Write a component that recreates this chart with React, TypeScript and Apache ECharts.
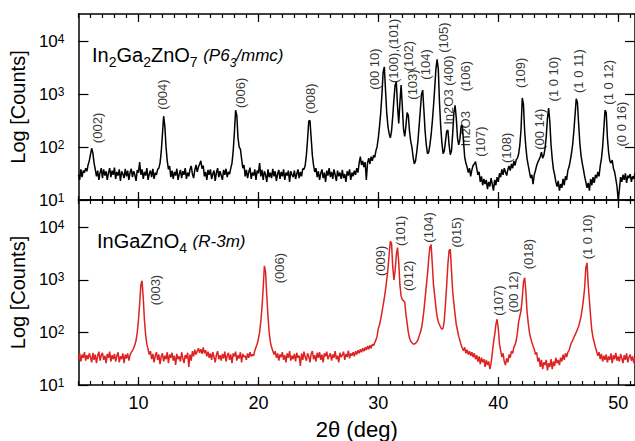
import React, { useEffect, useRef } from 'react';
import * as echarts from 'echarts';

const FONT = '"Liberation Sans", Arial, Helvetica, sans-serif';

// 2θ grid of the scans (deg)
const THETA_START = 5.0;
const THETA_STEP = 0.1;

// In2Ga2ZnO7 (P63/mmc) counts, 5.0° … 51.4° in 0.1° steps
const igzo227Counts = [
  30,24,38,27,36,33,40,35,46,55,
  72,95,78,50,38,28,36,24,33,40,
  26,38,29,35,24,33,40,27,36,30,
  41,25,34,29,38,23,35,31,26,39,
  28,36,24,33,39,27,35,30,23,37,
  33,52,30,38,25,34,29,40,24,31,
  36,27,39,25,33,30,38,40,50,82,
  175,385,250,100,55,38,44,27,36,25,
  34,29,39,24,31,37,26,35,30,40,
  25,33,28,38,44,31,26,37,46,34,
  42,48,55,39,45,28,34,24,37,30,
  38,25,31,36,23,33,40,27,35,29,
  24,37,30,39,27,34,31,40,50,85,
  190,500,400,150,100,92,60,40,46,28,
  37,26,34,41,25,33,29,38,24,36,
  32,50,28,37,24,35,30,22,38,27,
  33,26,39,28,35,23,31,37,25,34,
  28,38,24,33,29,36,22,35,30,27,
  36,25,31,38,26,34,28,39,38,45,
  70,140,310,320,150,70,45,34,40,27,
  35,24,32,38,26,33,22,36,29,40,
  27,34,25,38,30,23,36,28,33,25,
  37,26,31,22,35,29,38,24,33,28,
  36,30,40,33,50,66,46,55,42,52,
  24,50,62,48,66,55,70,64,85,103,
  150,250,450,1000,2600,3300,1200,450,250,180,
  150,200,380,800,1500,1700,600,280,700,1500,
  600,220,160,250,450,400,200,130,100,65,
  48,55,80,130,250,500,1000,1200,500,200,
  110,75,80,110,170,300,600,1300,3000,4600,
  3000,700,250,120,75,85,130,200,210,110,
  72,85,180,450,620,350,150,110,140,250,
  260,130,65,50,42,33,40,28,37,45,
  48,53,40,30,34,22,28,19,25,20,
  24,16,22,18,26,20,15,24,19,27,
  22,32,27,38,30,40,34,29,38,44,
  36,48,40,55,45,58,62,75,110,220,
  850,650,200,100,60,45,34,26,30,20,
  30,36,45,52,58,66,80,62,70,95,
  160,350,550,300,110,60,38,30,22,18,
  23,15,20,17,25,19,28,24,36,42,
  55,75,110,200,400,820,700,280,120,70,
  50,38,28,22,17,21,15,25,19,27,
  21,30,26,34,28,44,60,100,220,500,
  450,150,80,55,50,57,40,34,25,18,
  10,16,27,22,30,24,32,21,29,26,
  31,22,28,25,33,
];

// InGaZnO4 (R-3m) counts, 5.0° … 51.4° in 0.1° steps
const igzo114Counts = [
  30,40,28,38,33,42,29,37,31,40,
  34,27,41,30,38,26,36,43,29,37,
  41,30,36,26,39,33,43,28,37,31,
  39,28,36,42,27,35,31,40,26,38,
  32,40,29,37,42,45,50,58,70,100,
  170,350,800,960,450,170,90,60,48,38,
  44,31,39,27,36,42,30,38,25,35,
  40,28,36,31,42,26,38,33,41,29,
  36,24,39,31,35,28,42,32,26,37,
  32,41,22,38,29,44,35,47,38,44,
  50,41,48,39,52,40,46,35,43,33,
  40,30,42,34,27,38,44,31,37,29,
  39,32,43,28,36,41,30,38,26,40,
  35,43,29,37,32,42,27,39,34,36,
  30,40,33,42,35,38,36,45,52,60,
  75,100,160,300,700,1850,1400,500,200,100,
  65,52,45,38,44,33,40,29,38,34,
  42,30,37,27,40,33,44,29,36,31,
  39,28,41,33,36,23,40,30,43,34,
  29,40,35,27,39,44,31,37,28,41,
  33,42,30,38,27,40,35,43,31,36,
  40,29,38,33,44,31,36,27,41,34,
  37,43,30,39,34,45,32,40,36,42,
  35,44,38,46,40,48,42,50,44,52,
  46,55,48,57,50,60,56,64,72,85,
  120,140,180,240,330,450,650,1000,1600,3000,
  5400,5000,1800,1000,1500,3000,4100,2200,800,490,
  420,400,380,220,150,100,78,68,64,60,
  60,62,66,72,85,100,120,170,260,450,
  760,1300,2500,4200,4700,2000,800,500,300,200,
  160,140,125,115,120,170,350,800,2000,3600,
  3800,1500,600,350,220,140,110,85,70,58,
  50,45,52,40,47,38,44,36,42,34,
  40,31,37,28,35,25,33,27,31,22,
  30,24,28,20,26,40,64,90,140,178,
  120,60,45,34,40,28,24,32,27,38,
  33,44,40,52,58,70,100,160,205,260,
  450,900,1100,600,250,150,100,78,65,55,
  48,38,42,28,33,22,30,20,27,24,
  30,19,26,22,31,20,28,23,33,26,
  30,24,33,28,38,30,40,34,42,45,
  55,64,70,80,90,100,115,130,160,200,
  280,420,700,1700,2100,800,400,200,110,80,
  65,52,44,36,42,31,39,28,36,30,
  38,27,35,30,40,26,37,31,41,29,
  35,28,39,32,26,37,30,40,27,34,
  38,29,35,26,33,
];

// Peak labels: text, 2θ of label centre, counts at label start
const peakNames227 = ['(002)', '(004)', '(006)', '(008)', '(00 10)', '(100),(101)', '(102)', '(103)', '(104)', '(105)', 'In2O3 (400)', '(106)', 'In2O3', '(107)', '(108)', '(109)', '(00 14)', '(1 0 10)', '(1 0 11)', '(1 0 12)', '(0 0 16)'];
const peakTheta227 = [6.58, 12.01, 18.5, 24.34, 29.64, 31.27, 32.49, 32.85, 33.94, 35.4, 35.89, 37.25, 37.3, 38.5, 40.7, 41.87, 43.4, 44.64, 46.7, 49.15, 50.24];
const peakAt227 = [119, 511, 550, 429, 1222, 1637, 2720, 790, 1892, 6080, 265, 1135, 103, 66, 50, 1318, 89, 733, 1059, 635, 103];

const peakNames114 = ['(003)', '(006)', '(009)', '(101)', '(012)', '(104)', '(015)', '(107)', '(00 12)', '(018)', '(1 0 10)'];
const peakTheta114 = [11.44, 21.76, 30.19, 31.82, 32.49, 34.2, 36.52, 40.05, 41.24, 42.55, 47.43];
const peakAt114 = [330, 862, 1186, 4400, 616, 5100, 4100, 207, 240, 1585, 2455];

const xMajorTicks = [10, 20, 30, 40, 50];
const xMinorTicks = Array.from({ length: 47 }, (_, i) => 5 + i);
const yDecades = [10, 100, 1000, 10000];

const X_MIN = 5;
const X_MAX = 51.4;
const Y_MIN = 10;
const Y_MAX = 33000;

const toSeries = (counts: number[]) =>
  counts.map((c, i) => [+(THETA_START + i * THETA_STEP).toFixed(2), c]);

const toLabels = (names: string[], thetas: number[], at: number[]) =>
  names.map((n, i) => ({ name: n, value: [thetas[i], at[i]] }));

export default function App() {
  const ref = useRef<HTMLDivElement>(null);

  useEffect(() => {
    if (!ref.current) return;
    const chart = echarts.init(ref.current, undefined, { renderer: 'svg' });

    const axisColor = '#000';
    const grids = [
      { left: 72.5, top: 14, width: 569.3, height: 186 },
      { left: 72.5, top: 200, width: 569.3, height: 186 },
    ];

    const xAxes: any[] = [];
    const yAxes: any[] = [];
    [0, 1].forEach((g) => {
      const base = {
        gridIndex: g,
        type: 'value',
        min: X_MIN,
        max: X_MAX,
        splitLine: { show: false },
        axisLabel: { show: false },
      };
      xAxes.push({
        ...base,
        position: 'bottom',
        axisLine: { show: true, onZero: false, lineStyle: { color: axisColor, width: 1.5 } },
        axisTick: { show: true, inside: true, length: 4, customValues: xMinorTicks, lineStyle: { color: axisColor, width: 1.2 } },
      });
      xAxes.push({
        ...base,
        position: 'bottom',
        axisLine: { show: false, onZero: false },
        axisTick: { show: true, inside: true, length: 8, customValues: xMajorTicks, lineStyle: { color: axisColor, width: 1.2 } },
        axisLabel: g === 1
          ? { show: true, customValues: xMajorTicks, fontSize: 18, color: '#000', fontFamily: FONT, margin: 9 }
          : { show: false },
        name: g === 1 ? '2θ (deg)' : '',
        nameLocation: 'middle',
        nameGap: 33,
        nameTextStyle: { fontSize: 22, color: '#000', fontFamily: FONT },
      });
      xAxes.push({
        ...base,
        position: 'top',
        axisLine: { show: true, onZero: false, lineStyle: { color: axisColor, width: 1.5 } },
        axisTick: { show: true, inside: true, length: 4, customValues: xMinorTicks, lineStyle: { color: axisColor, width: 1.2 } },
      });
      xAxes.push({
        ...base,
        position: 'top',
        axisLine: { show: false, onZero: false },
        axisTick: { show: true, inside: true, length: 8, customValues: xMajorTicks, lineStyle: { color: axisColor, width: 1.2 } },
      });

      yAxes.push({
        gridIndex: g,
        type: 'log',
        logBase: 10,
        min: Y_MIN,
        max: Y_MAX,
        position: 'left',
        splitLine: { show: false },
        minorTick: { show: false },
        axisLine: { show: true, onZero: false, lineStyle: { color: axisColor, width: 1.5 } },
        axisTick: { show: true, inside: true, length: 10, customValues: yDecades, lineStyle: { color: axisColor, width: 1.2 } },
        axisLabel: {
          show: true,
          customValues: yDecades,
          margin: 14,
          formatter: (v: number) => `{b|10}{s|${Math.round(Math.log10(v))}}`,
          rich: {
            b: { fontSize: 17, lineHeight: 17, verticalAlign: 'bottom', fontFamily: FONT, color: '#000' },
            s: { fontSize: 12, lineHeight: 12, padding: [0, 0, 8, 0], verticalAlign: 'top', fontFamily: FONT, color: '#000' },
          },
        },
        name: 'Log [Counts]',
        nameLocation: 'middle',
        nameRotate: 90,
        nameGap: 40,
        nameTextStyle: { fontSize: 20, color: '#000', fontFamily: FONT },
      });
      yAxes.push({
        gridIndex: g,
        type: 'log',
        logBase: 10,
        min: Y_MIN,
        max: Y_MAX,
        position: 'right',
        splitLine: { show: false },
        axisLine: { show: true, onZero: false, lineStyle: { color: axisColor, width: 1.5 } },
        axisTick: { show: true, inside: true, length: 10, customValues: yDecades, lineStyle: { color: axisColor, width: 1.2 } },
        axisLabel: { show: false },
      });
    });

    const labelStyle = {
      show: true,
      formatter: '{b}',
      rotate: 90,
      position: 'inside',
      align: 'left',
      verticalAlign: 'middle',
      fontSize: 13,
      fontFamily: FONT,
      color: '#000',
    };

    const titleRich = {
      m: { fontSize: 20, lineHeight: 28, fontFamily: FONT, color: '#000', fontWeight: 'normal' },
      s: { fontSize: 14, lineHeight: 14, verticalAlign: 'bottom', fontFamily: FONT, color: '#000', fontWeight: 'normal' },
      i: { fontSize: 17, lineHeight: 28, fontStyle: 'italic', fontFamily: FONT, color: '#000', fontWeight: 'normal' },
      is: { fontSize: 12, lineHeight: 12, verticalAlign: 'bottom', fontStyle: 'italic', fontFamily: FONT, color: '#000', fontWeight: 'normal' },
    };

    chart.setOption({
      animation: false,
      backgroundColor: '#fff',
      title: [
        {
          text: '{m|In}{s|2}{m|Ga}{s|2}{m|ZnO}{s|7}{m| }{i|(P6}{is|3}{i|/mmc)}',
          left: 92,
          top: 41,
          padding: 0,
          textStyle: { fontWeight: 'normal', rich: titleRich },
        },
        {
          text: '{m|InGaZnO}{s|4}{m| }{i|(R-3m)}',
          left: 97,
          top: 227,
          padding: 0,
          textStyle: { fontWeight: 'normal', rich: titleRich },
        },
      ],
      grid: grids,
      xAxis: xAxes,
      yAxis: yAxes,
      series: [
        {
          type: 'line',
          xAxisIndex: 0,
          yAxisIndex: 0,
          data: toSeries(igzo227Counts),
          showSymbol: false,
          lineStyle: { color: '#000', width: 1.5 },
          silent: true,
        },
        {
          type: 'line',
          xAxisIndex: 4,
          yAxisIndex: 2,
          data: toSeries(igzo114Counts),
          showSymbol: false,
          lineStyle: { color: '#dd2222', width: 1.5 },
          silent: true,
        },
        {
          type: 'scatter',
          xAxisIndex: 0,
          yAxisIndex: 0,
          symbolSize: 0,
          itemStyle: { color: 'rgba(0,0,0,0)' },
          data: toLabels(peakNames227, peakTheta227, peakAt227),
          label: labelStyle,
          silent: true,
          clip: false,
        },
        {
          type: 'scatter',
          xAxisIndex: 4,
          yAxisIndex: 2,
          symbolSize: 0,
          itemStyle: { color: 'rgba(0,0,0,0)' },
          data: toLabels(peakNames114, peakTheta114, peakAt114),
          label: labelStyle,
          silent: true,
          clip: false,
        },
      ],
    });

    return () => chart.dispose();
  }, []);

  return (
    <div
      ref={ref}
      style={{ position: 'absolute', left: 0, top: 0, width: 635, height: 441, background: '#fff' }}
    />
  );
}
